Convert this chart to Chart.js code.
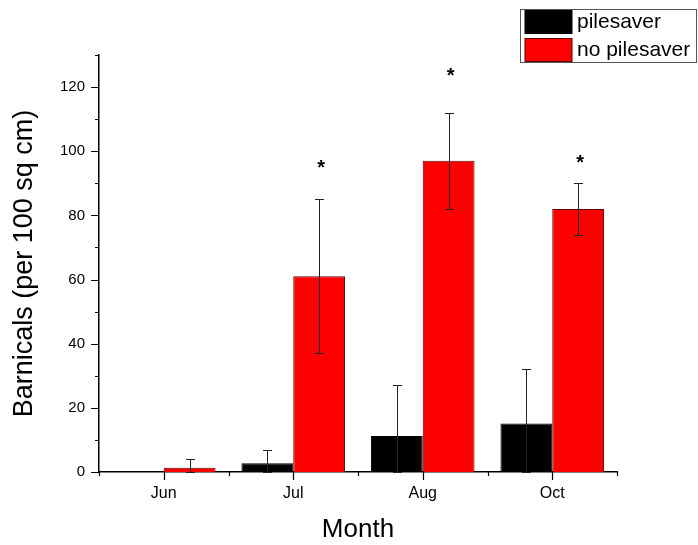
<!DOCTYPE html>
<html>
<head>
<meta charset="utf-8">
<script src="https://cdn.jsdelivr.net/npm/chart.js@4.4.0/dist/chart.umd.min.js"></script>
<style>
  html, body { margin: 0; padding: 0; background: #fff; }
  #wrap { width: 698px; height: 545px; position: relative; }
</style>
</head>
<body>
<div id="wrap"><canvas id="c" width="698" height="545"></canvas></div>
<script>
const months = ['Jun', 'Jul', 'Aug', 'Oct'];
const seriesNames = ['pilesaver', 'no pilesaver'];
const pilesaver = [0, 2.7, 11.2, 15.1];
const pilesaverErr = [0, 4.3, 15.8, 17];
const noPilesaver = [1.35, 61, 97, 82];
const noPilesaverErr = [2.65, 24, 15, 8];
const significance = ['', '*', '*', '*'];
const starValue = [null, 96, 124.5, 97.5];
const yTicks = [0, 20, 40, 60, 80, 100, 120];

const FONT = 'Arial, "Liberation Sans", Helvetica, sans-serif';

const errs = [pilesaverErr, noPilesaverErr];

const customPlugin = {
  id: 'custom',
  afterDatasetsDraw(chart) {
    const ctx = chart.ctx;
    const y = chart.scales.y;
    ctx.save();
    // error bars
    chart.data.datasets.forEach((ds, di) => {
      const meta = chart.getDatasetMeta(di);
      meta.data.forEach((bar, i) => {
        const e = errs[di][i];
        if (!e) return;
        const v = ds.data[i];
        const yt = Math.round(y.getPixelForValue(v + e)) + 0.5;
        const yb = Math.round(y.getPixelForValue(Math.max(0, v - e))) + 0.5;
        const x = Math.round(bar.x) + 0.5;
        ctx.strokeStyle = '#222';
        ctx.lineWidth = 1;
        ctx.beginPath();
        ctx.moveTo(x, yt); ctx.lineTo(x, yb);
        ctx.moveTo(x - 4.5, yt); ctx.lineTo(x + 4.5, yt);
        ctx.moveTo(x - 4.5, yb); ctx.lineTo(x + 4.5, yb);
        ctx.stroke();
      });
    });
    // significance stars
    const meta1 = chart.getDatasetMeta(1);
    ctx.fillStyle = '#000';
    ctx.font = 'bold 20px ' + FONT;
    ctx.textAlign = 'center';
    ctx.textBaseline = 'middle';
    significance.forEach((s, i) => {
      if (!s) return;
      const bar = meta1.data[i];
      ctx.fillText(s, bar.x + 2, y.getPixelForValue(starValue[i]) + 4);
    });
    ctx.restore();
  },
  afterDraw(chart) {
    const ctx = chart.ctx;
    const x = chart.scales.x;
    const y = chart.scales.y;
    const area = chart.chartArea;
    ctx.save();
    ctx.strokeStyle = '#000';
    ctx.lineWidth = 1.2;
    ctx.beginPath();
    // y ticks (outside, left)
    for (let v = 0; v <= 130; v += 10) {
      const py = Math.round(y.getPixelForValue(v)) + 0.5;
      const len = (v % 20 === 0) ? 8 : 4;
      ctx.moveTo(area.left - len, py); ctx.lineTo(area.left, py);
    }
    // x ticks: major at centers, minor at boundaries
    const n = months.length;
    const cw = (area.right - area.left) / n;
    for (let i = 0; i < n; i++) {
      const px = Math.round(x.getPixelForTick(i)) + 0.5;
      ctx.moveTo(px, area.bottom); ctx.lineTo(px, area.bottom + 8);
    }
    for (let i = 0; i <= n; i++) {
      const px = Math.round(area.left + i * cw) + 0.5;
      ctx.moveTo(px, area.bottom); ctx.lineTo(px, area.bottom + 4);
    }
    ctx.stroke();

    // legend
    const lx = 520.5, ly = 9.5, lw = 176, lh = 53;
    ctx.fillStyle = '#fff';
    ctx.fillRect(lx, ly, lw, lh);
    ctx.strokeStyle = '#555';
    ctx.lineWidth = 1;
    ctx.strokeRect(lx, ly, lw, lh);
    ctx.font = '21px ' + FONT;
    ctx.textAlign = 'left';
    ctx.textBaseline = 'middle';
    chart.data.datasets.forEach((ds, di) => {
      const ry = 10.5 + di * 28;
      ctx.fillStyle = ds.backgroundColor;
      ctx.fillRect(525, ry, 47, 23);
      ctx.strokeStyle = ds.borderColor;
      ctx.strokeRect(525, ry, 47, 23);
      ctx.fillStyle = '#000';
      ctx.fillText(ds.label, 577, ry + 11.5);
    });
    ctx.restore();
  }
};

new Chart(document.getElementById('c'), {
  type: 'bar',
  data: {
    labels: months,
    datasets: [
      { label: seriesNames[0], data: pilesaver, backgroundColor: '#000000', borderColor: '#000000', borderWidth: 1,
        categoryPercentage: 0.8, barPercentage: 1.0 },
      { label: seriesNames[1], data: noPilesaver, backgroundColor: '#ff0000', borderColor: '#5a0000', borderWidth: 1,
        categoryPercentage: 0.8, barPercentage: 1.0 }
    ]
  },
  options: {
    responsive: false,
    animation: false,
    devicePixelRatio: 1,
    layout: { padding: { top: 55, right: 81, left: 0, bottom: 0 } },
    plugins: { legend: { display: false }, tooltip: { enabled: false } },
    scales: {
      x: {
        grid: { display: false, drawTicks: false },
        border: { display: true, color: '#000', width: 1.5 },
        ticks: { color: '#000', font: { family: FONT, size: 16 }, padding: 12, maxRotation: 0 },
        title: { display: true, text: 'Month', color: '#000', font: { family: FONT, size: 26 }, padding: 0 },
        afterFit(s) { s.height = 73; }
      },
      y: {
        min: 0, max: 130,
        grid: { display: false, drawTicks: false },
        border: { display: true, color: '#000', width: 1.5 },
        ticks: {
          stepSize: 10, autoSkip: false, color: '#000', font: { family: FONT, size: 15 }, padding: 14,
          callback: (v) => yTicks.includes(v) ? String(v) : ''
        },
        title: { display: true, text: 'Barnicals (per 100 sq cm)', color: '#000', font: { family: FONT, size: 27 }, padding: { top: 8, bottom: 0 } },
        afterFit(s) { s.width = 99; }
      }
    }
  },
  plugins: [customPlugin]
});
</script>
</body>
</html>
